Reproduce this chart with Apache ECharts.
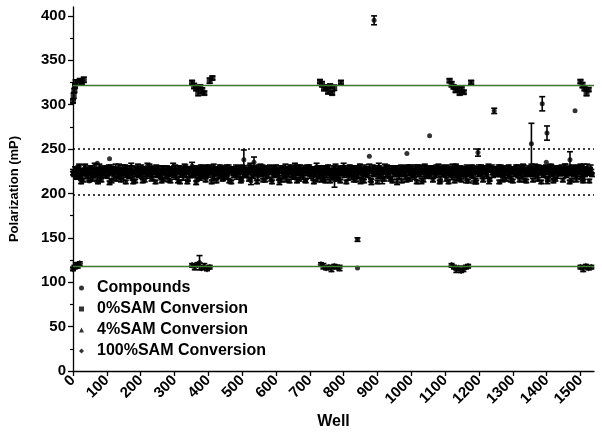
<!DOCTYPE html>
<html>
<head>
<meta charset="utf-8">
<script src="https://cdn.jsdelivr.net/npm/echarts@6/dist/echarts.min.js"></script>
<style>html,body{margin:0;padding:0;background:#fff;}#c{width:602px;height:436px;}</style>
</head>
<body>
<div id="c"></div>
<script>
// ---- DATA ----
var xTicks = [0,100,200,300,400,500,600,700,800,900,1000,1100,1200,1300,1400,1500];
var yTicks = [0,50,100,150,200,250,300,350,400];
var yMinorTicks = [25,75,125,175,225,275,325,375];
var compoundWellStep = 4;
// compounds in wells 0,4,8,...
var compoundValues = [
224,221,226,219,228,223,213,225,222,229,220,226,214,224,227,221,231,223,218,226,222,215,228,224,
220,227,223,212,229,225,221,226,216,223,230,222,219,227,224,213,228,221,225,230,218,224,214,226,
229,222,225,220,227,215,223,231,221,226,219,228,224,213,222,227,225,220,229,216,224,221,228,223,
214,226,230,222,219,225,228,213,223,227,221,229,224,216,226,220,231,225,222,212,227,224,219,228,
223,229,215,226,221,228,224,219,230,222,214,227,225,221,228,217,223,226,220,229,224,213,227,222,
226,220,228,224,214,229,223,227,221,225,216,230,224,219,227,222,213,228,225,221,229,223,215,226,
221,228,224,213,227,222,230,225,219,226,215,228,223,229,221,225,214,227,224,220,231,222,226,216,
228,223,219,226,214,229,224,221,227,225,213,222,230,226,220,228,215,224,227,221,229,225,214,223,
226,220,229,225,216,223,227,222,230,224,213,228,221,226,219,229,224,215,227,222,231,225,220,214,
227,224,221,229,215,226,222,228,224,213,230,225,221,227,216,223,229,224,220,226,214,228,225,222,
229,221,226,214,228,224,220,230,223,216,227,225,222,229,213,226,221,228,224,215,230,223,227,221,
225,229,215,227,222,226,230,213,224,228,221,226,216,229,223,227,220,225,214,231,224,222,228,215,
223,227,221,229,214,226,224,230,220,227,213,225,229,222,226,215,228,224,221,230,216,227,223,226,
228,222,226,213,229,225,221,227,216,224,230,222,228,214,226,223,229,221,215,227,225,230,222,214,
226,229,223,227,215,224,228,221,230,225,213,227,222,229,224,216,226,231,223,214,228,225,221,227,
224,228,215,226,230,222,227,213,225,229,221,226,216,228,224,230,222,214,227,225,229,223,226,224
];
var compoundSD = [
3,2,4,2,3,5,2,3,2,4,3,2,1,3,4,2,3,2,5,3,2,2,3,4,
2,4,3,2,3,2,4,3,2,5,3,2,3,2,4,2,3,3,2,4,3,2,2,3,
4,2,3,3,2,2,4,3,2,3,5,2,3,2,3,4,2,3,2,2,3,4,2,3,
2,3,4,2,3,2,3,2,4,3,2,3,5,2,3,2,4,3,2,2,3,2,4,3,
3,2,2,4,3,3,2,4,3,2,2,3,2,4,3,2,3,2,4,3,2,2,3,4,
2,4,3,2,2,3,4,2,3,3,2,4,3,2,3,2,2,4,3,2,3,3,2,4,
3,3,2,2,4,3,2,3,4,2,2,3,3,4,2,3,2,3,2,4,3,2,3,2,
4,2,3,3,2,3,2,4,3,2,2,3,4,2,3,3,2,2,4,3,2,3,2,3,
2,3,4,2,2,3,3,2,4,3,2,3,2,4,3,2,3,2,3,4,2,3,3,2,
3,2,3,4,2,3,2,3,2,2,4,3,3,2,2,4,3,2,3,2,2,3,4,3,
2,4,2,2,3,3,4,2,3,2,3,2,4,3,2,3,2,4,3,2,3,2,3,4,
3,2,2,3,4,2,3,2,3,4,2,3,2,3,3,2,4,3,2,2,3,4,2,2,
4,3,2,3,2,3,4,2,3,2,2,4,3,2,3,2,3,2,4,3,2,3,2,3,
2,3,4,2,3,2,3,4,2,3,2,3,2,2,4,3,2,3,2,4,3,2,3,2,
3,2,3,4,2,3,2,3,2,4,2,3,3,2,3,2,4,2,3,2,3,3,4,2,
2,4,2,3,3,2,3,2,4,3,2,2,3,4,2,3,3,2,3,2,4,2,3,3
];
// compounds in wells 2,6,10,...
var compoundOffsetB = 2;
var compoundValuesB = [
222,227,218,225,230,221,224,215,228,223,226,220,229,225,216,222,227,224,213,229,221,226,223,228,
225,219,228,223,214,227,222,229,224,220,226,215,228,223,230,221,225,219,227,224,213,228,222,226,
220,226,229,214,224,228,221,225,230,222,217,227,224,229,220,226,223,214,228,225,221,229,216,224,
227,223,220,228,225,215,229,222,226,219,230,224,213,227,222,228,225,221,229,216,224,226,230,221,
219,225,228,222,229,224,213,226,221,228,225,220,230,223,216,227,224,229,221,214,226,228,223,220,
228,224,221,227,216,223,229,225,220,226,230,214,227,222,228,224,219,226,230,223,215,228,221,225,
224,229,216,222,228,225,221,227,213,229,224,220,226,216,228,223,230,221,225,219,227,214,229,224,
221,226,228,215,224,227,230,222,226,219,228,224,216,229,223,225,221,228,214,226,230,222,225,219,
229,223,225,220,228,214,226,229,221,227,224,219,230,225,222,216,228,221,226,229,214,227,223,228,
222,228,224,226,213,229,221,225,227,220,229,223,215,226,230,224,221,227,216,228,225,222,229,213,
226,222,229,224,221,227,215,228,225,230,221,226,219,224,228,222,229,214,226,223,228,220,225,229,
221,225,227,220,229,223,226,216,228,222,225,229,224,213,227,221,230,226,222,228,217,225,229,223,
228,224,216,226,222,229,221,227,225,214,228,223,226,230,220,227,224,222,229,214,226,228,221,225,
224,227,229,221,225,216,228,223,226,229,222,215,227,225,221,228,230,223,226,220,229,215,224,227,
221,225,228,222,226,230,223,216,227,224,229,221,226,228,214,225,222,229,226,221,216,227,229,223,
227,222,225,229,220,226,224,228,215,227,223,229,221,225,228,224,216,229,222,227,225,214,228,221
];
var compoundSDB = [
2,3,2,4,3,2,3,2,4,2,3,3,2,4,2,3,2,3,2,4,3,2,3,2,
3,2,4,2,2,3,3,4,2,3,2,2,4,3,2,3,3,2,4,2,2,3,3,2,
2,4,3,2,3,2,4,2,3,3,2,4,2,3,2,4,3,2,3,2,4,2,3,3,
3,2,2,4,3,3,2,3,2,4,3,2,2,3,4,2,3,3,2,2,4,3,2,3,
2,3,4,2,3,2,2,3,4,2,3,3,2,4,2,3,2,3,4,2,3,2,3,2,
4,2,3,3,2,4,2,3,2,3,2,4,3,2,3,2,4,2,3,3,2,3,4,2,
2,3,2,4,3,2,3,2,3,2,4,3,2,3,2,4,2,3,3,2,4,2,3,3,
3,2,3,2,4,3,2,3,2,4,2,3,3,2,3,2,4,3,2,3,2,4,2,3,
2,4,2,3,3,2,4,2,3,2,3,4,2,3,2,3,3,2,4,2,3,2,3,4,
3,2,4,2,3,3,2,4,2,3,2,2,4,3,3,2,3,4,2,3,2,3,2,3,
2,3,3,4,2,3,2,3,4,2,3,2,3,2,4,3,2,3,2,4,3,2,3,2,
4,2,3,2,3,2,4,3,2,3,3,2,4,2,3,2,3,2,4,3,2,3,2,4,
2,3,4,3,2,2,3,4,2,3,2,4,3,2,3,4,2,3,2,3,2,4,3,2,
3,2,3,2,4,3,2,3,3,2,4,2,3,3,2,4,2,3,2,3,4,2,3,2,
2,4,2,3,2,3,3,2,4,3,2,3,2,4,3,2,3,3,2,4,2,3,2,3,
3,2,3,4,2,2,4,3,2,3,3,2,4,2,3,3,2,4,3,2,3,2,4,2
];
// individually readable compound outliers
var outlierWells  = [72, 108, 505, 535, 773, 841, 841, 876, 890, 987, 1054, 1182, 1197, 1245, 1355, 1387, 1399, 1401, 1469, 1484];
var outlierValues = [234, 239, 238, 235, 215, 148, 116, 242, 395, 245, 265, 213, 246, 293, 256, 301, 235, 268, 238, 293];
var outlierSD     = [0, 0, 11, 6, 8, 2, 0, 0, 5, 0, 0, 0, 4, 3, 23, 8, 0, 8, 9, 0];

// 0% SAM conversion controls (high)
var ctl0Wells  = [0,2,4,6,8,20,26,32, 352,358,364,370,376,382,388,404,412, 730,736,742,748,754,760,766,772,792, 1113,1119,1125,1131,1137,1143,1149,1155,1177, 1500,1506,1512,1518,1524];
var ctl0Values = [304,310,316,321,325,327,325,328, 325,321,318,314,320,316,313,327,330, 326,323,318,320,315,321,313,319,325, 327,323,320,316,318,313,317,314,325, 326,322,318,313,317];
var ctl0SD     = [2,3,2,2,3,2,2,3, 2,3,2,4,2,3,2,3,2, 2,3,2,2,3,2,2,3,2, 2,3,2,2,3,2,3,2,2, 2,3,2,3,2];
// 4% SAM conversion controls (mid)
var ctl4Wells  = [10,22, 356,372,392,408, 738,758,778, 1122,1142,1162, 1504,1520];
var ctl4Values = [222,219, 224,218,221,226, 217,223,220, 221,217,224, 219,223];
var ctl4SD     = [2,3, 2,3,2,2, 3,2,2, 2,3,2, 3,2];
// 100% SAM conversion controls (low)
var ctl100Wells  = [0,4,8,14,20, 352,360,368,374,380,388,396,404, 733,740,748,756,764,772,780,788, 1119,1126,1133,1140,1147,1154,1161,1168, 1500,1508,1516,1524,1532];
var ctl100Values = [115,117,119,118,121, 119,117,120,122,116,118,115,117, 120,118,116,117,115,118,117,116, 119,117,114,116,113,115,117,118, 117,115,118,116,117];
var ctl100SD     = [2,2,3,2,2, 2,3,2,8,2,3,2,2, 2,3,2,2,3,2,2,3, 2,2,3,2,2,3,2,2, 2,3,2,2,2];

var highMean = 322, lowMean = 117.5;
var upperLimit = 250, lowerLimit = 198;

// ---- BUILD ----
var compPts = [], compErr = [];
compoundValues.forEach(function(v, i){
  var w = i * compoundWellStep;
  compPts.push([w, v]);
  compErr.push([w, v - compoundSD[i], v + compoundSD[i]]);
});
compoundValuesB.forEach(function(v, i){
  var w = i * compoundWellStep + compoundOffsetB;
  compPts.push([w, v]);
  compErr.push([w, v - compoundSDB[i], v + compoundSDB[i]]);
});
outlierWells.forEach(function(w, i){
  compPts.push([w, outlierValues[i]]);
  if (outlierSD[i] > 0) compErr.push([w, outlierValues[i] - outlierSD[i], outlierValues[i] + outlierSD[i]]);
});
function pts(ws, vs){ return ws.map(function(w,i){ return [w, vs[i]]; }); }
function errs(ws, vs, sd){ return ws.map(function(w,i){ return [w, vs[i]-sd[i], vs[i]+sd[i]]; }); }
var allErr = compErr.concat(errs(ctl0Wells, ctl0Values, ctl0SD), errs(ctl4Wells, ctl4Values, ctl4SD), errs(ctl100Wells, ctl100Values, ctl100SD));

function errRender(params, api){
  var p1 = api.coord([api.value(0), api.value(1)]);
  var p2 = api.coord([api.value(0), api.value(2)]);
  var w = 3;
  var st = {stroke:'#000', lineWidth:1.6};
  return {type:'group', children:[
    {type:'line', shape:{x1:p1[0],y1:p1[1],x2:p2[0],y2:p2[1]}, style:st},
    {type:'line', shape:{x1:p1[0]-w,y1:p1[1],x2:p1[0]+w,y2:p1[1]}, style:st},
    {type:'line', shape:{x1:p2[0]-w,y1:p2[1],x2:p2[0]+w,y2:p2[1]}, style:st}
  ]};
}

var FONT = '"Liberation Sans", Arial, sans-serif';
var chart = echarts.init(document.getElementById('c'), null, {renderer:'canvas'});
chart.setOption({
  animation: false,
  backgroundColor: '#fff',
  grid: {left: 67, right: 8, top: 7, bottom: 65, containLabel: false},
  legend: {
    orient: 'vertical', left: 74, top: 275,
    itemWidth: 5, itemHeight: 5, itemGap: 5,
    data: [
      {name:'Compounds', icon:'circle'},
      {name:'0%SAM Conversion', icon:'rect'},
      {name:'4%SAM Conversion', icon:'triangle'},
      {name:'100%SAM Conversion', icon:'diamond'}
    ],
    textStyle: {fontFamily: FONT, fontWeight:'bold', fontSize:16, color:'#000', padding:[0,0,0,8], lineHeight:16}
  },
  xAxis: {
    type:'value', min:0, max:1540,
    name:'Well', nameLocation:'middle', nameGap:40,
    nameTextStyle:{fontFamily:FONT, fontWeight:'bold', fontSize:16, color:'#000'},
    splitLine:{show:false},
    axisLine:{show:true, onZero:false, lineStyle:{color:'#000', width:1.3}},
    axisTick:{show:true, length:5, customValues:xTicks, lineStyle:{color:'#000', width:1.3}},
    axisLabel:{customValues:xTicks, rotate:45, margin:7, fontFamily:FONT, fontWeight:'bold', fontSize:15, color:'#000',
      formatter:function(v){ return String(v); }}
  },
  yAxis: [{
    type:'value', min:0, max:410,
    name:'Polarization (mP)', nameLocation:'middle', nameGap:52, nameRotate:90,
    nameTextStyle:{fontFamily:FONT, fontWeight:'bold', fontSize:13, color:'#000'},
    splitLine:{show:false},
    axisLine:{show:true, onZero:false, lineStyle:{color:'#000', width:1.3}},
    axisTick:{show:true, length:5, customValues:yTicks, lineStyle:{color:'#000', width:1.3}},
    axisLabel:{customValues:yTicks, margin:7, fontFamily:FONT, fontWeight:'bold', fontSize:15, color:'#000'}
  },{
    type:'value', min:0, max:410, position:'left',
    splitLine:{show:false},
    axisLine:{show:false},
    axisTick:{show:true, length:3, customValues:yMinorTicks, lineStyle:{color:'#000', width:1.2}},
    axisLabel:{show:false}
  }],
  series: [
    {type:'custom', renderItem: errRender, data: allErr, encode:{x:0, y:[1,2]}, silent:true, z:2},
    {name:'Compounds', type:'scatter', symbol:'circle', symbolSize:5, data: compPts, itemStyle:{color:'#000'}, z:3,
     markLine:{silent:true, symbol:'none', label:{show:false},
       lineStyle:{color:'#000', type:[2,3], width:1.6},
       data:[{yAxis:upperLimit},{yAxis:lowerLimit}]}},
    {name:'0%SAM Conversion', type:'scatter', symbol:'rect', symbolSize:6, data: pts(ctl0Wells, ctl0Values), itemStyle:{color:'#000'}, z:4,
     markLine:{silent:true, symbol:'none', label:{show:false},
       lineStyle:{color:'#3b7a2a', type:'solid', width:1.4},
       data:[{yAxis:highMean},{yAxis:lowMean}]}},
    {name:'4%SAM Conversion', type:'scatter', symbol:'triangle', symbolSize:6, data: pts(ctl4Wells, ctl4Values), itemStyle:{color:'#000'}, z:4},
    {name:'100%SAM Conversion', type:'scatter', symbol:'diamond', symbolSize:7, data: pts(ctl100Wells, ctl100Values), itemStyle:{color:'#000'}, z:4}
  ]
});
</script>
</body>
</html>
